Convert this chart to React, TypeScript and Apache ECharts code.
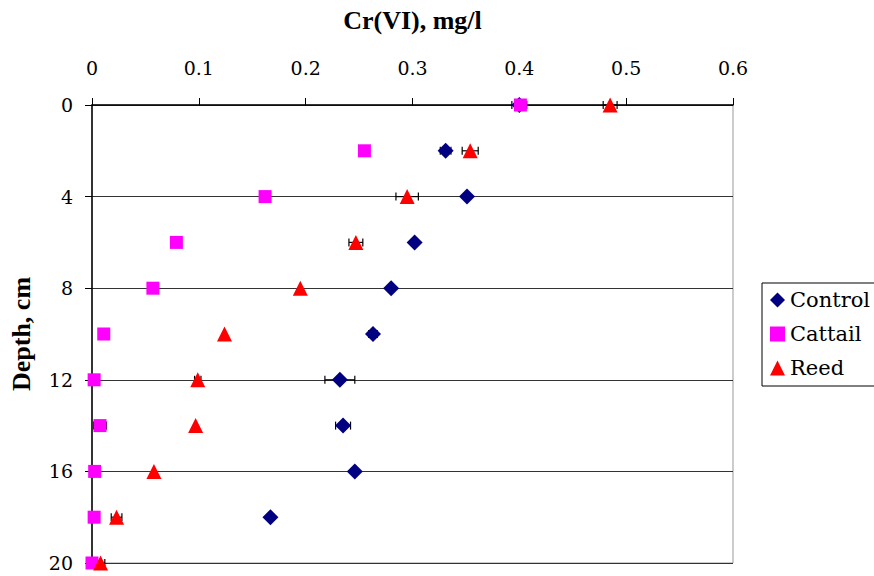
import React, { useEffect, useRef } from "react";
import * as echarts from "echarts";

const depths = [0, 2, 4, 6, 8, 10, 12, 14, 16, 18, 20];
const controlValues = [0.4, 0.331, 0.351, 0.302, 0.28, 0.263, 0.232, 0.235, 0.246, 0.167, null];
const controlErrors = [0.007, 0.005, 0, 0, 0, 0.004, 0.014, 0.007, 0, 0, 0];
const cattailValues = [0.401, 0.255, 0.162, 0.079, 0.057, 0.011, 0.002, 0.0075, 0.0025, 0.002, 0.0];
const cattailErrors = [0.002, 0, 0, 0, 0, 0, 0, 0.006, 0, 0, 0];
const reedValues = [0.485, 0.354, 0.295, 0.247, 0.195, 0.124, 0.099, 0.097, 0.058, 0.023, 0.008];
const reedErrors = [0.0065, 0.0075, 0.0105, 0.0065, 0, 0, 0.003, 0, 0, 0.005, 0.004];
const xTicks = [0, 0.1, 0.2, 0.3, 0.4, 0.5, 0.6];
const yTicks = [0, 4, 8, 12, 16, 20];

const FONT = "'Liberation Serif', 'Times New Roman', serif";
const FONT_REG = "'DejaVu Serif', serif";

function pts(values: (number | null)[]) {
  const out: number[][] = [];
  values.forEach((v, i) => {
    if (v !== null) out.push([v, depths[i]]);
  });
  return out;
}
function errPts(values: (number | null)[], errs: number[]) {
  const out: number[][] = [];
  values.forEach((v, i) => {
    if (v !== null && errs[i] > 0) out.push([v, depths[i], errs[i]]);
  });
  return out;
}

const renderErr = (params: any, api: any) => {
  const x = api.value(0);
  const y = api.value(1);
  const e = api.value(2);
  const p1 = api.coord([x - e, y]);
  const p2 = api.coord([x + e, y]);
  const h = 4;
  const style = { stroke: "#000", lineWidth: 1.2 };
  return {
    type: "group",
    children: [
      { type: "line", shape: { x1: p1[0], y1: p1[1], x2: p2[0], y2: p2[1] }, style },
      { type: "line", shape: { x1: p1[0], y1: p1[1] - h, x2: p1[0], y2: p1[1] + h }, style },
      { type: "line", shape: { x1: p2[0], y1: p2[1] - h, x2: p2[0], y2: p2[1] + h }, style },
    ],
  };
};

export default function App() {
  const ref = useRef<HTMLDivElement>(null);
  useEffect(() => {
    if (!ref.current) return;
    const chart = echarts.init(ref.current, undefined, { renderer: "svg" });
    chart.setOption({
      animation: false,
      backgroundColor: "#fff",
      grid: {
        left: 92,
        right: 141,
        top: 105,
        bottom: 13,
        show: true,
        borderColor: "#999",
        borderWidth: 1,
      },
      legend: {
        orient: "vertical",
        left: 762,
        top: 283,
        borderColor: "#000",
        borderWidth: 1,
        padding: [3, 12, 4, 8],
        itemGap: 6,
        itemWidth: 15,
        itemHeight: 15,
        textStyle: { fontSize: 21, fontFamily: FONT_REG, color: "#000", lineHeight: 28 },
        data: [
          { name: "Control", icon: "diamond" },
          { name: "Cattail", icon: "rect" },
          { name: "Reed", icon: "triangle" },
        ],
      },
      xAxis: {
        type: "value",
        position: "top",
        min: xTicks[0],
        max: xTicks[xTicks.length - 1],
        interval: 0.1,
        name: "Cr(VI), mg/l",
        nameLocation: "middle",
        nameGap: 72,
        nameTextStyle: { fontSize: 26, fontWeight: "bold", fontFamily: FONT, color: "#000" },
        axisLine: { show: true, lineStyle: { color: "#000", width: 1.5 } },
        axisTick: { show: true, inside: false, length: 7, lineStyle: { color: "#000" } },
        axisLabel: {
          margin: 28,
          fontSize: 19,
          fontFamily: FONT_REG,
          color: "#000",
          formatter: (v: number) => String(Math.round(v * 10) / 10),
        },
        splitLine: { show: false },
      },
      yAxis: {
        type: "value",
        inverse: true,
        min: yTicks[0],
        max: yTicks[yTicks.length - 1],
        interval: 4,
        name: "Depth, cm",
        nameLocation: "middle",
        nameGap: 58,
        nameTextStyle: { fontSize: 26, fontWeight: "bold", fontFamily: FONT, color: "#000" },
        axisLine: { show: true, lineStyle: { color: "#000", width: 1.5 } },
        axisTick: { show: true, inside: false, length: 7, lineStyle: { color: "#000" } },
        axisLabel: { margin: 19, fontSize: 19, fontFamily: FONT_REG, color: "#000" },
        splitLine: { show: true, lineStyle: { color: "#333", width: 1 } },
      },
      series: [
        { type: "custom", name: "errControl", renderItem: renderErr, data: errPts(controlValues, controlErrors), z: 1, silent: true },
        { type: "custom", name: "errCattail", renderItem: renderErr, data: errPts(cattailValues, cattailErrors), z: 1, silent: true },
        { type: "custom", name: "errReed", renderItem: renderErr, data: errPts(reedValues, reedErrors), z: 1, silent: true },
        {
          type: "scatter",
          name: "Control",
          symbol: "diamond",
          symbolSize: 16,
          itemStyle: { color: "#000080", opacity: 1 },
          data: pts(controlValues),
          z: 2,
        },
        {
          type: "scatter",
          name: "Cattail",
          symbol: "rect",
          symbolSize: 13,
          itemStyle: { color: "#FF00FF", opacity: 1 },
          data: pts(cattailValues),
          z: 3,
        },
        {
          type: "scatter",
          name: "Reed",
          symbol: "triangle",
          symbolSize: 15,
          itemStyle: { color: "#FF0000", opacity: 1 },
          data: pts(reedValues),
          z: 4,
        },
      ],
    });
    return () => chart.dispose();
  }, []);
  return <div ref={ref} style={{ width: 874, height: 576, position: "absolute", left: 0, top: 0 }} />;
}
